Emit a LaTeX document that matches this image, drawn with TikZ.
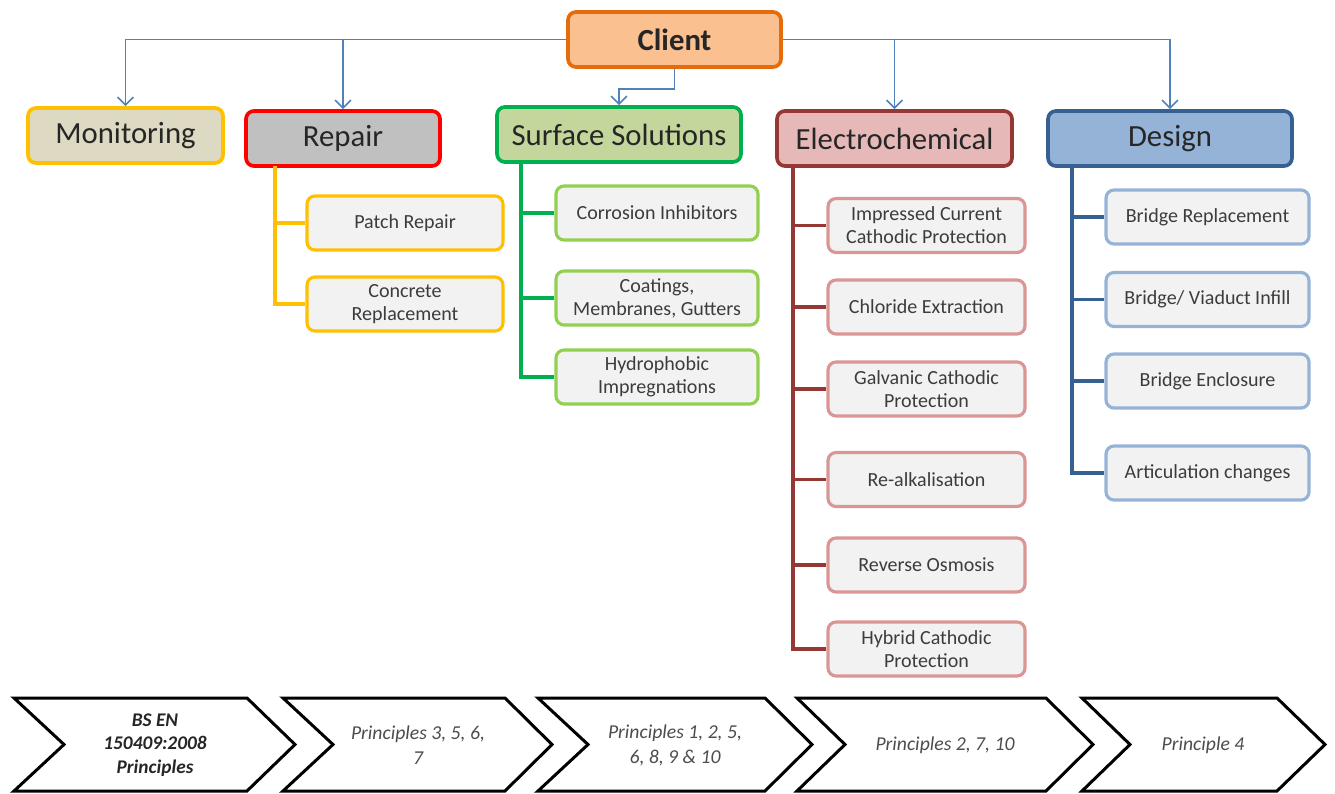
\documentclass[tikz,border=0pt]{standalone}
\usepackage{fontspec}
\setmainfont{Carlito}
\usetikzlibrary{arrows.meta}
\definecolor{clientfill}{HTML}{FAC090}
\definecolor{clientline}{HTML}{E46C0A}
\definecolor{linkblue}{HTML}{4F81BD}
\definecolor{monfill}{HTML}{DDD9C3}
\definecolor{gold}{HTML}{FFC000}
\definecolor{repfill}{HTML}{C0C0C0}
\definecolor{surffill}{HTML}{C3D69B}
\definecolor{surfline}{HTML}{00B050}
\definecolor{surfkid}{HTML}{92D050}
\definecolor{elecfill}{HTML}{E6B9B8}
\definecolor{elecline}{HTML}{953735}
\definecolor{eleckid}{HTML}{D99694}
\definecolor{desfill}{HTML}{95B3D7}
\definecolor{desline}{HTML}{366092}
\definecolor{deskid}{HTML}{95B3D7}
\definecolor{kidfill}{HTML}{F2F2F2}
\definecolor{txtgray}{HTML}{262626}

\begin{document}
\begin{tikzpicture}[x=0.02cm, y=-0.02cm,
    head/.style={draw, rounded corners=0.16cm, line width=2.1pt, minimum height=1.1cm,
        inner sep=0pt, text=txtgray, font=\fontsize{17.5}{21}\selectfont},
    kid/.style={draw, rounded corners=0.16cm, line width=1.8pt, fill=kidfill, minimum height=1.08cm,
        inner sep=0pt, align=center, text=txtgray!90, font=\fontsize{11.4}{13.2}\selectfont},
    link/.style={linkblue, line width=0.9pt, -{Straight Barb[length=4.5pt,width=9pt]}},
    trunk/.style={line width=2pt},
    chevron/.style={draw=black, line width=1.7pt, line join=miter},
    ptext/.style={align=center, text=black!70, font=\fontsize{11.2}{14.3}\selectfont\itshape}]
    \useasboundingbox (0,0) rectangle (1335,794);

    % Top level
    \node[head, fill=clientfill, draw=clientline, minimum width=4.26cm, font=\fontsize{17.5}{21}\selectfont\bfseries] (client) at (674.5,39.5) {Client};

    % Groups
    \node[head, fill=monfill, draw=gold, minimum width=3.9cm] (monitoring) at (125.5,135.5) {Monitoring};
    \node[head, fill=repfill, draw=red, minimum width=3.88cm] (repair) at (343,138.5) {Repair};
    \node[head, fill=surffill, draw=surfline, minimum width=4.88cm] (surface) at (619,134.5) {Surface Solutions};
    \node[head, fill=elecfill, draw=elecline, minimum width=4.7cm] (electro) at (894.5,138.5) {Electrochemical};
    \node[head, fill=desfill, draw=desline, minimum width=4.88cm] (design) at (1170,138.5) {Design};

    % Arrows from client
    \draw[link] (client.west) -| (monitoring.north);
    \draw[link] (client.west) -| (repair.north);
    \draw[link] (client.east) -| (electro.north);
    \draw[link] (client.east) -| (design.north);
    \draw[link] (client.south) -- ++(0,20) -| (surface.north);

    % Repair
    \coordinate (rt) at (275,166);
    \foreach \name/\y/\word in {patch/223/Patch Repair, concrete/304/{Concrete\\Replacement}} {
        \node[kid, draw=gold, minimum width=3.92cm] (\name) at (405,\y) {\word};
        \draw[trunk, gold] (rt) |- (\name.west);
    }

    % Surface solutions
    \coordinate (st) at (521,162);
    \foreach \name/\y/\word in {corrosion/213/Corrosion Inhibitors, coatings/298/{Coatings,\\Membranes, Gutters},
        hydro/377/{Hydrophobic\\Impregnations}} {
        \node[kid, draw=surfkid, minimum width=4.04cm] (\name) at (657,\y) {\word};
        \draw[trunk, surfline] (st) |- (\name.west);
    }

    % Electrochemical
    \coordinate (et) at (793,166);
    \foreach \name/\y/\word in {iccp/225.5/{Impressed Current\\Cathodic Protection}, chloride/307/Chloride Extraction,
        galvanic/389/{Galvanic Cathodic\\Protection}, realk/479.5/Re-alkalisation,
        reverse/565/Reverse Osmosis, hybrid/649/{Hybrid Cathodic\\Protection}} {
        \node[kid, draw=eleckid, minimum width=3.94cm] (\name) at (926.5,\y) {\word};
        \draw[trunk, elecline] (et) |- (\name.west);
    }

    % Design
    \coordinate (dt) at (1072,166);
    \foreach \name/\y/\word in {bridgerep/217/Bridge Replacement, infill/299.5/{Bridge/ Viaduct Infill},
        enclosure/381/Bridge Enclosure, artic/473/Articulation changes} {
        \node[kid, draw=deskid, minimum width=4.06cm] (\name) at (1207.5,\y) {\word};
        \draw[trunk, desline] (dt) |- (\name.west);
    }

    % Principles
    \foreach \l/\n/\r/\p in {14/64/247/295, 283/333/505/552, 538/588/765/812, 797/845/1046/1093, 1082/1130/1277/1325} {
        \draw[chevron] (\l,698) -- (\r,698) -- (\p,744.5) -- (\r,791) -- (\l,791) -- (\n,744.5) -- cycle;
    }
    \node[ptext, font=\fontsize{11}{13.5}\selectfont\bfseries\itshape, text=black!85] (p1) at (155,745) {BS EN\\150409:2008\\Principles};
    \node[ptext] (p2) at (418,745) {Principles 3, 5, 6,\\7};
    \node[ptext] (p3) at (675,745) {Principles 1, 2, 5,\\6, 8, 9 \& 10};
    \node[ptext] (p4) at (945,745) {Principles 2, 7, 10};
    \node[ptext] (p5) at (1203,745) {Principle 4};
\end{tikzpicture}
\end{document}
